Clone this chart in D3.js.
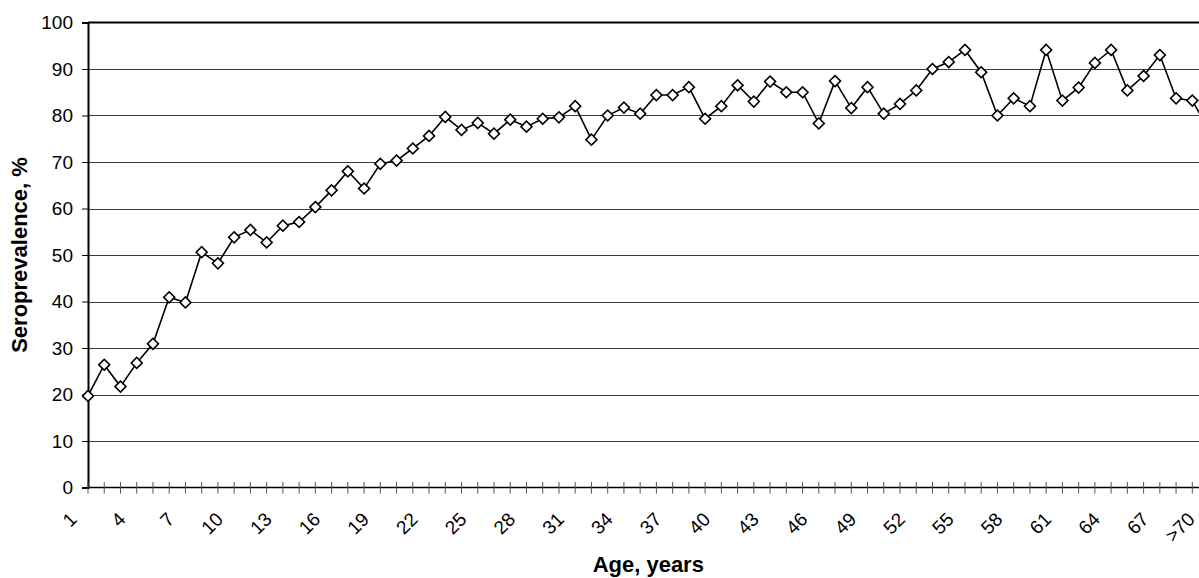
<!DOCTYPE html>
<html>
<head>
<meta charset="utf-8">
<script src="https://cdn.jsdelivr.net/npm/d3@7"></script>
<style>
  html, body { margin: 0; padding: 0; background: #fff; overflow: hidden; }
  svg { display: block; font-family: Arial, "Liberation Sans", sans-serif; }
</style>
</head>
<body>
<div id="chart"></div>
<script>
// Seroprevalence by single year of age
const ages = d3.range(1, 70).map(String).concat(['>70']);
const seroprevalence = [
  19.7, 26.4, 21.7, 26.8, 30.9, 40.9, 39.8, 50.6, 48.2, 53.8,
  55.4, 52.7, 56.3, 57.1, 60.3, 63.9, 68.0, 64.3, 69.6, 70.3,
  72.9, 75.6, 79.7, 76.9, 78.4, 76.1, 79.1, 77.6, 79.3, 79.6,
  82.0, 74.8, 80.0, 81.7, 80.4, 84.4, 84.4, 86.1, 79.3, 82.0,
  86.5, 83.0, 87.3, 85.0, 85.0, 78.3, 87.4, 81.6, 86.1, 80.4,
  82.5, 85.4, 90.0, 91.5, 94.1, 89.3, 80.0, 83.7, 82.0, 94.1,
  83.2, 86.0, 91.3, 94.1, 85.4, 88.5, 93.0, 83.7, 83.2, 77.0
];
const yTicks = [0, 10, 20, 30, 40, 50, 60, 70, 80, 90, 100];
const xTickLabels = ages.filter((d, i) => i % 3 === 0);

const width = 1199;
const height = 578;
const plotLeft = 88;
const plotTop = 22.5;
const plotBottom = 487.5;
// the plot area runs slightly past the right edge of the picture
const plotRight = 88 + 69 * 16.24;

const svg = d3.select('#chart')
  .append('svg')
  .attr('width', width)
  .attr('height', height);

const x = d3.scalePoint().domain(ages).range([plotLeft, plotRight]);
const y = d3.scaleLinear().domain([0, 100]).range([plotBottom, plotTop]);

// Gridlines
svg.append('g')
  .selectAll('line')
  .data(yTicks.filter(d => d > 0 && d < 100))
  .join('line')
  .attr('x1', plotLeft).attr('x2', plotRight)
  .attr('y1', d => Math.round(y(d)) + 0.5).attr('y2', d => Math.round(y(d)) + 0.5)
  .attr('stroke', '#3a3a3a')
  .attr('stroke-width', 1);

// Top border of the plot area
svg.append('line')
  .attr('x1', plotLeft).attr('x2', plotRight)
  .attr('y1', y(100)).attr('y2', y(100))
  .attr('stroke', '#000')
  .attr('stroke-width', 2);

// Y axis
const yAxis = svg.append('g')
  .attr('transform', `translate(${plotLeft},0)`)
  .call(d3.axisLeft(y).tickValues(yTicks).tickSize(6).tickPadding(9));
yAxis.select('.domain').attr('stroke', '#000').attr('stroke-width', 2);
yAxis.selectAll('.tick line').attr('stroke', '#000').attr('stroke-width', 1);
yAxis.selectAll('.tick text')
  .attr('font-size', '19px')
  .attr('fill', '#000')
  .attr('font-family', 'Arial, "Liberation Sans", sans-serif');

// X axis, cross tick marks
const xAxis = svg.append('g')
  .attr('transform', `translate(0,${plotBottom})`);
xAxis.append('line')
  .attr('x1', plotLeft).attr('x2', plotRight)
  .attr('stroke', '#000')
  .attr('stroke-width', 1.5);
xAxis.selectAll('line.tick')
  .data(ages)
  .join('line')
  .attr('class', 'tick')
  .attr('x1', d => x(d)).attr('x2', d => x(d))
  .attr('y1', -5.5).attr('y2', 6)
  .attr('stroke', '#555')
  .attr('stroke-width', 1);
// labels sit a little left of their tick; keep the last one inside the picture
xAxis.selectAll('text')
  .data(xTickLabels)
  .join('text')
  .attr('transform', d => `translate(${Math.min(x(d) - 10, width - 3)},33) rotate(-45)`)
  .attr('text-anchor', 'end')
  .attr('font-size', '19px')
  .attr('fill', '#000')
  .text(d => d);

// Series line
const line = d3.line()
  .x((d, i) => x(ages[i]))
  .y(d => y(d));

svg.append('path')
  .datum(seroprevalence)
  .attr('d', line)
  .attr('fill', 'none')
  .attr('stroke', '#000')
  .attr('stroke-width', 1.6);

// Diamond markers
const marker = d3.symbol().type(d3.symbolSquare).size(60);
svg.append('g')
  .selectAll('path')
  .data(seroprevalence)
  .join('path')
  .attr('d', marker)
  .attr('transform', (d, i) => `translate(${x(ages[i])},${y(d)}) rotate(45)`)
  .attr('fill', '#fff')
  .attr('stroke', '#000')
  .attr('stroke-width', 1.6);

// Axis titles
svg.append('text')
  .attr('transform', `translate(26.5,${(plotTop + plotBottom) / 2}) rotate(-90)`)
  .attr('text-anchor', 'middle')
  .attr('font-size', '22px')
  .attr('font-weight', 'bold')
  .text('Seroprevalence, %');

svg.append('text')
  .attr('x', (plotLeft + plotRight) / 2)
  .attr('y', 571.5)
  .attr('text-anchor', 'middle')
  .attr('font-size', '22px')
  .attr('font-weight', 'bold')
  .text('Age, years');
</script>
</body>
</html>
